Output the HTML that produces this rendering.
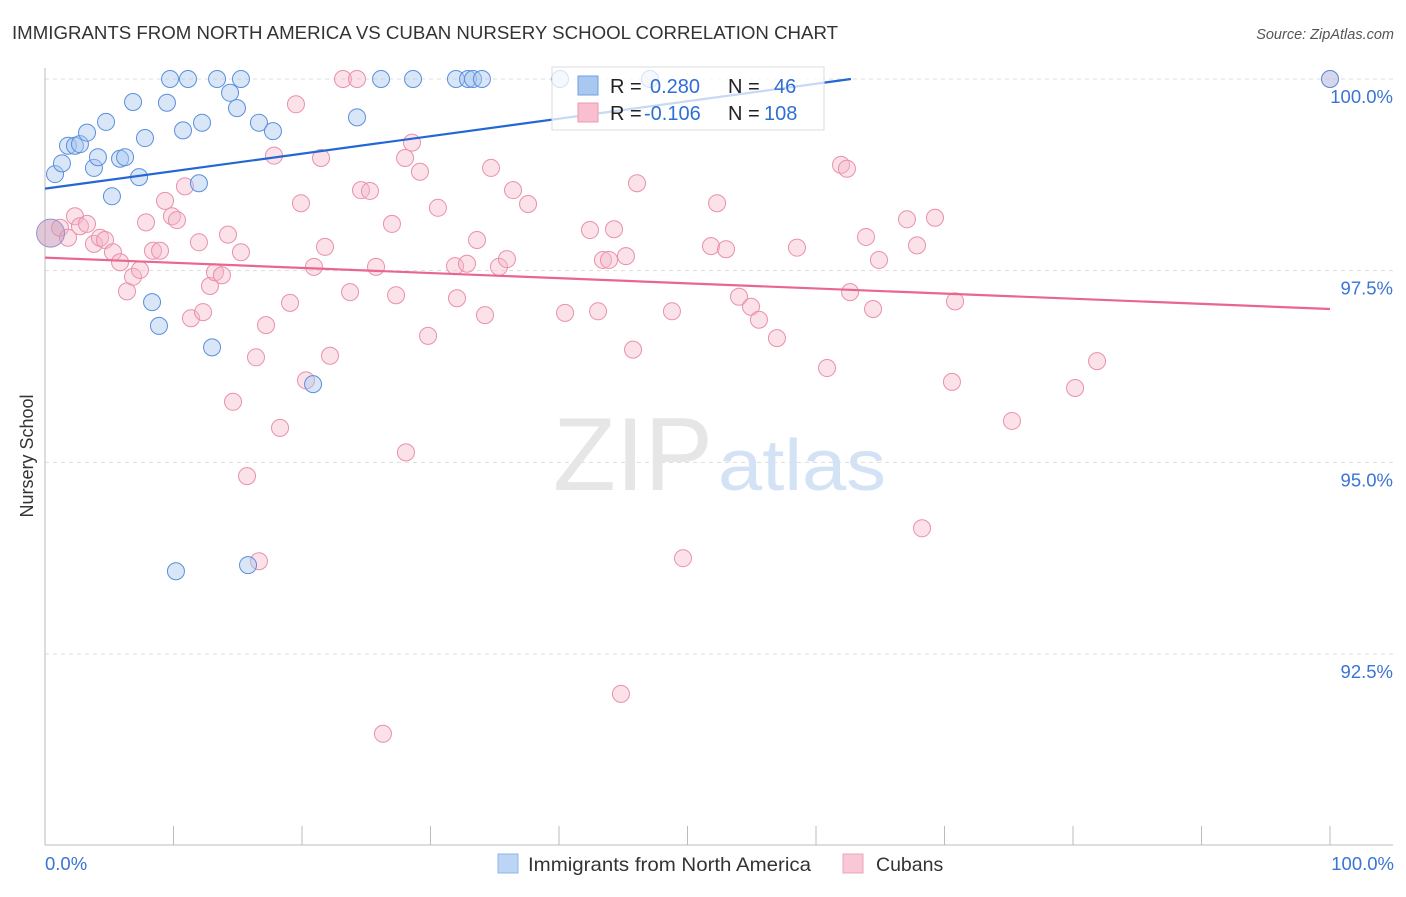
<!DOCTYPE html>
<html><head><meta charset="utf-8"><style>
body{margin:0;background:#fff;font-family:"Liberation Sans",sans-serif}
svg text{font-family:"Liberation Sans",sans-serif}
</style></head><body>
<svg id="chart" width="1406" height="892" xmlns="http://www.w3.org/2000/svg">
<text x="12" y="39" font-size="18.5" fill="#333" textLength="826" lengthAdjust="spacingAndGlyphs">IMMIGRANTS FROM NORTH AMERICA VS CUBAN NURSERY SCHOOL CORRELATION CHART</text>
<text x="1394" y="39" font-size="14.5" fill="#555" text-anchor="end" font-style="italic">Source: ZipAtlas.com</text>
<text x="0" y="0" transform="translate(33,456) rotate(-90)" font-size="18" fill="#333" text-anchor="middle">Nursery School</text>
<g id="grid"></g>
<text x="553" y="490" font-size="104" fill="#e6e6e6" font-family="Liberation Serif" textLength="160" lengthAdjust="spacingAndGlyphs">ZIP</text>
<text x="718" y="490" font-size="72" fill="#d3e2f4" textLength="168" lengthAdjust="spacingAndGlyphs">atlas</text>
<g id="pts"></g>
<g id="trends"></g>
<g>
<rect x="552" y="67" width="272" height="63" fill="#fff" fill-opacity="0.75" stroke="#ddd"/>
<rect x="578" y="76" width="20" height="19" fill="#a9c8f0" stroke="#6f9fe0"/>
<rect x="578" y="103" width="20" height="19" fill="#f7bfcf" stroke="#eb98b2"/>
<text x="610" y="93" font-size="20" fill="#222">R = <tspan fill="#2f6fd4" x="650">0.280</tspan><tspan fill="#222" x="728">N =</tspan><tspan fill="#2f6fd4" x="774">46</tspan></text>
<text x="610" y="120" font-size="20" fill="#222">R = <tspan fill="#2f6fd4" x="644">-0.106</tspan><tspan fill="#222" x="728">N =</tspan><tspan fill="#2f6fd4" x="764">108</tspan></text>
</g>
<g>
<rect x="498" y="854" width="20" height="19" fill="#bcd5f5" stroke="#8fb4e8"/>
<text x="528" y="871" font-size="19.5" fill="#333" textLength="283" lengthAdjust="spacingAndGlyphs">Immigrants from North America</text>
<rect x="843" y="854" width="20" height="19" fill="#f8c8d6" stroke="#eda5bb"/>
<text x="876" y="871" font-size="19.5" fill="#333">Cubans</text>
</g>
<text x="45" y="870" font-size="18.5" fill="#3a74d4">0.0%</text>
<text x="1394" y="870" font-size="18.5" fill="#3a74d4" text-anchor="end">100.0%</text>
</svg>
<script>
const yTicks=[100,97.5,95,92.5];
const yTickLabels=["100.0%","97.5%","95.0%","92.5%"];
const xTicks=[0,10,20,30,40,50,60,70,80,90,100];
const blueX=[0.78,1.32,1.79,2.33,2.72,3.27,3.81,4.12,4.75,5.21,5.84,6.23,6.85,7.32,7.78,8.33,8.87,9.49,9.73,10.19,10.74,11.13,11.98,12.22,13.0,13.39,14.4,14.94,15.25,15.8,16.65,17.74,20.86,24.28,26.15,28.64,31.98,32.92,33.31,34.0,40.08,47.08,100];
const blueY=[98.76,98.9,99.13,99.13,99.15,99.3,98.84,98.98,99.44,98.47,98.96,98.98,99.7,98.72,99.23,97.09,96.78,99.69,100,93.58,99.33,100,98.64,99.43,96.5,100,99.82,99.62,100,93.66,99.43,99.32,96.02,99.5,100,100,100,100,100,100,100,100,100];
const pinkX=[1.17,1.79,2.33,2.72,3.27,3.81,4.28,4.67,5.29,5.84,6.38,6.85,7.39,7.86,8.4,8.95,9.34,9.88,10.27,10.89,11.36,11.98,12.3,12.84,13.23,13.77,14.24,14.63,15.25,15.72,16.42,16.65,17.2,17.82,18.29,19.07,19.53,19.92,20.31,20.93,21.48,21.79,22.18,23.19,23.74,24.28,24.59,25.29,25.76,26.3,27.0,27.32,28.09,28.02,28.56,29.18,29.81,30.58,31.91,32.06,32.84,33.62,34.24,34.71,35.33,35.95,36.42,37.59,40.47,42.41,43.04,43.42,43.89,44.28,44.82,45.21,45.76,46.07,48.79,49.65,51.83,52.3,53.0,54.01,54.94,55.56,56.96,58.52,60.86,61.95,62.41,62.65,63.89,64.44,64.9,67.08,67.86,68.25,69.26,70.58,70.82,75.25,80.16,81.87,100];
const pinkY=[98.06,97.93,98.21,98.08,98.11,97.85,97.93,97.9,97.74,97.61,97.23,97.42,97.51,98.13,97.76,97.76,98.41,98.21,98.16,98.6,96.88,97.87,96.96,97.3,97.48,97.44,97.97,95.79,97.74,94.82,96.37,93.71,96.79,99.0,95.45,97.08,99.67,98.38,96.07,97.55,98.97,97.81,96.39,100,97.22,100,98.55,98.54,97.55,91.46,98.11,97.18,95.13,98.97,99.17,98.79,96.65,98.32,97.56,97.14,97.59,97.9,96.92,98.84,97.55,97.65,98.55,98.37,96.95,98.03,96.97,97.64,97.64,98.04,91.98,97.69,96.47,98.64,96.97,93.75,97.82,98.38,97.78,97.16,97.03,96.86,96.62,97.8,96.23,98.88,98.83,97.22,97.94,97.0,97.64,98.17,97.83,94.14,98.19,96.05,97.1,95.54,95.97,96.32,100];
const bigPoints=[[0.2,97.99]];
const blueTrend=[98.57,0.0228];
const pinkTrend=[97.67,-0.0067];
const NS="http://www.w3.org/2000/svg";
const sx=v=>45+v*12.85;
const sy=v=>79+(100-v)*76.67;
function mk(tag,attrs,parent){const e=document.createElementNS(NS,tag);for(const k in attrs)e.setAttribute(k,attrs[k]);parent.appendChild(e);return e;}
const grid=document.getElementById('grid');
yTicks.forEach((t,i)=>{
 const l=mk('line',{x1:45,x2:1393,y1:sy(t),y2:sy(t),stroke:'#ddd','stroke-dasharray':'4,4'},grid);
 
 
 const tx=mk('text',{x:1393,y:sy(t)+24,'font-size':18.5,fill:'#3a74d4','text-anchor':'end'},grid);
 tx.textContent=yTickLabels[i];
 
 
});
const ax=mk('line',{x1:45,x2:1393,y1:845,y2:845,stroke:'#bbb'},grid);


const ay=mk('line',{x1:45,x2:45,y1:68,y2:845,stroke:'#bbb'},grid);


xTicks.forEach(t=>{
 const l=mk('line',{x1:sx(t),x2:sx(t),y1:826,y2:845,stroke:'#bbb'},grid);
 
 
});
const pts=document.getElementById('pts');
pinkX.forEach((x,i)=>{
 const c=mk('circle',{cx:sx(x),cy:sy(pinkY[i]),r:8.5,fill:'#f6b6c9','fill-opacity':0.4,stroke:'#ea8fae','stroke-width':1},pts);
 
 
});
blueX.forEach((x,i)=>{
 const c=mk('circle',{cx:sx(x),cy:sy(blueY[i]),r:8.5,fill:'#a9c8f0','fill-opacity':0.45,stroke:'#5b8fdc','stroke-width':1},pts);
 
 
});
bigPoints.forEach(p=>{
 const c=mk('circle',{cx:sx(p[0])+3,cy:sy(p[1]),r:14,fill:'#c89ab8','fill-opacity':0.55,stroke:'#9a8fd0','stroke-width':1},pts);
 
 
});
const tr=document.getElementById('trends');
let bEnd=Math.min(100,(100-blueTrend[0])/blueTrend[1]);
const bl=mk('line',{x1:sx(0),y1:sy(blueTrend[0]),x2:sx(bEnd),y2:sy(blueTrend[0]+blueTrend[1]*bEnd),stroke:'#2467d4','stroke-width':2.2},tr);


const pl=mk('line',{x1:sx(0),y1:sy(pinkTrend[0]),x2:sx(100),y2:sy(pinkTrend[0]+pinkTrend[1]*100),stroke:'#e8668f','stroke-width':2.2},tr);


</script>
</body></html>
